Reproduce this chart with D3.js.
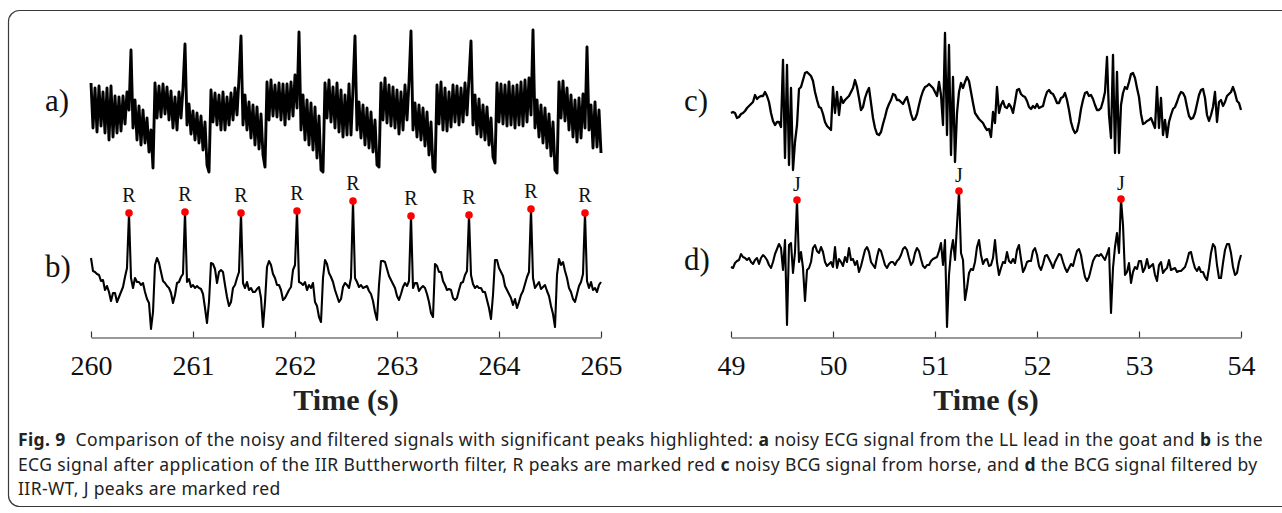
<!DOCTYPE html>
<html>
<head>
<meta charset="utf-8">
<script src="https://cdn.jsdelivr.net/npm/d3@7"></script>
<style>
html, body { margin: 0; padding: 0; background: #fff; }
svg { display: block; }
</style>
</head>
<body>
<svg id="chart" width="1282" height="513"></svg>
<script>
// ---------------- DATA ----------------
const fs = 51;                        // samples per second (as plotted)
const leftStart = 260, rightStart = 49; // time (s) of first sample
const leftTicks = [260, 261, 262, 263, 264, 265];
const rightTicks = [49, 50, 51, 52, 53, 54];
const panelLabels = ["a)", "b)", "c)", "d)"];
const axisTitle = "Time (s)";

// a) noisy ECG (goat, LL lead), arbitrary units
const ecgNoisy = [
  27,-18,22,-22,24,-16,18,-23,22,-30,
  24,-27,14,-23,13,-21,14,-14,18,0,
  60,-18,10,-30,4,-35,0,-33,-8,-42,
  -20,-58,27,-8,24,-7,26,-4,23,-10,
  19,-18,13,-20,18,-8,22,66,-15,6,
  -24,-1,-30,-3,-33,-6,-40,-12,-55,-62,
  20,-12,17,-15,15,-20,18,-20,13,-15,
  17,-10,22,-5,32,74,-15,15,-20,8,
  -28,5,-35,3,-39,-4,-45,-57,28,-10,
  30,-6,25,-7,27,-10,26,-15,26,-9,
  28,-6,35,2,78,-20,15,-30,10,-35,
  7,-40,3,-48,-6,-60,-62,27,-8,30,
  -12,23,-18,27,-22,20,-27,15,-25,26,
  -25,22,74,-20,8,-28,5,-35,2,-38,
  -2,-42,-10,-55,-57,27,-10,32,-13,25,
  -16,23,-18,20,-24,18,-20,25,-10,28,
  79,-20,7,-27,5,-30,2,-36,-2,-45,
  -12,-58,-62,25,-14,28,-20,22,-21,18,
  -17,25,-12,24,-15,22,-12,27,-5,32,
  69,-15,15,-24,11,-27,5,-30,3,-35,
  -8,-47,-53,27,-12,26,-14,25,-16,28,
  -15,24,-18,25,-15,28,-16,30,-12,32,
  -5,80,-18,10,-27,5,-33,2,-38,-4,
  -46,-12,-60,-63,28,-8,29,-11,22,-20,
  15,-27,10,-32,12,-28,16,-18,63,-20,
  5,-38,8,-37,0,-43
];

// b) ECG after IIR Butterworth filter
const ecgFiltered = [
  27,14,13,11,10,4,5,-5,-1,-7,
  -16,-8,-8,-17,-12,-7,-2,8,17,72,
  7,-3,7,3,3,0,2,-7,-14,-18,
  -44,-27,20,27,22,13,4,2,-1,-3,
  -8,-18,-10,2,3,8,11,73,3,6,
  -2,0,-3,-1,-3,-4,-9,-23,-38,-17,
  22,21,16,2,13,15,13,0,-12,-21,
  -17,-3,0,7,13,72,2,-3,3,-5,
  -3,-7,-7,-4,-2,-13,-42,-17,18,24,
  20,11,7,0,0,-5,-15,-13,-9,-5,
  -2,15,20,74,3,2,0,3,-5,0,
  -3,2,-17,-21,-32,-37,7,25,21,12,
  8,3,-5,-11,-17,-14,-2,2,0,-3,
  7,84,7,3,-2,0,-3,-2,-1,-6,
  -9,-16,-27,-35,0,24,24,23,16,9,
  5,1,-3,-11,-15,-9,-2,2,-1,4,
  69,-3,2,2,-6,-3,-1,-3,-9,-17,
  -28,-32,21,19,13,13,4,0,-5,-4,
  -5,-13,-15,-13,-5,2,3,10,14,70,
  10,1,-3,-1,-3,-3,-7,-7,-15,-23,
  -34,-10,25,25,17,13,9,-1,-5,-9,
  -13,-20,-14,-23,-17,-10,-6,1,8,13,
  76,7,-3,0,3,-4,-2,0,-6,-11,
  -21,-29,-42,10,26,20,23,14,7,-3,
  -7,-14,-17,-9,-1,3,11,72,4,-3,
  3,-5,-3,-7,0,3
];

// c) noisy BCG (horse)
const bcgNoisy = [
  -1,0,-1,-6,-5,-2,-1,1,4,6,
  8,10,17,13,15,16,16,20,16,10,
  -1,-9,-13,-10,-10,-15,52,-46,47,-53,
  24,-58,-30,-13,23,25,32,39,40,38,
  36,31,20,12,5,4,-2,-10,-14,-16,
  -18,25,-1,20,-3,15,9,12,14,16,
  20,24,32,25,14,2,5,14,20,24,
  9,-6,-16,-22,-23,-20,-12,-5,3,8,
  12,18,17,12,12,10,8,12,15,7,
  -2,-8,-7,-2,7,15,21,25,26,28,
  26,24,20,16,30,17,-13,79,-23,67,
  -43,35,-50,-1,20,29,24,30,35,31,
  20,9,-1,-4,-7,-9,-11,-15,-18,-17,
  -25,0,-11,25,-1,7,11,5,4,8,
  5,-1,10,22,23,18,16,15,11,5,
  3,6,4,8,4,5,6,14,20,22,
  19,18,14,9,9,14,15,19,12,2,
  -10,-17,-21,-19,-10,3,12,19,20,16,
  17,13,7,2,2,4,11,20,55,-3,
  -26,57,-41,40,-41,7,19,25,23,30,
  38,39,34,24,15,-2,-12,-11,-9,-8,
  -6,-11,-16,25,-16,14,-23,-8,-25,-10,
  -3,3,5,10,16,20,19,15,5,-4,
  -7,-6,-1,8,17,22,23,14,-3,-9,
  -3,5,20,-10,10,12,6,10,16,18,
  20,25,19,11,9,2
];

// d) BCG filtered by IIR-WT
const bcgFiltered = [
  -2,-3,2,4,5,11,8,7,5,7,
  3,1,5,7,1,7,10,8,5,0,
  -3,3,11,16,21,17,-5,25,-60,20,
  22,-8,13,65,3,13,-3,-36,-5,-3,
  3,17,20,14,12,18,13,3,-1,1,
  3,-2,18,-3,6,3,-1,8,3,17,
  5,6,0,4,-7,-1,7,15,18,13,
  3,0,-3,8,16,14,7,0,-3,1,
  3,3,0,4,6,10,16,18,15,7,
  0,3,12,17,14,6,-1,-3,0,0,
  4,6,7,8,14,22,0,25,-62,-10,
  13,25,5,40,74,12,5,-35,-23,-8,
  -4,-5,3,18,25,10,1,5,6,-1,
  0,7,25,3,-10,-3,3,2,13,4,
  2,6,2,15,20,6,-7,-3,3,4,
  4,14,17,10,-1,-5,1,9,10,6,
  2,-3,3,7,11,10,3,-3,-7,-3,
  1,-1,7,14,16,10,-2,-12,-16,-12,
  -4,4,8,10,9,11,8,5,11,17,
  -48,-3,18,32,12,66,40,-10,-7,2,
  -18,-7,-2,-4,4,4,-7,-3,6,-3,
  -1,1,-10,-16,0,3,-8,-5,-3,5,
  -5,-4,-3,-7,-6,-6,-4,-2,4,12,
  13,4,-3,-6,-2,-7,-7,-12,-15,-3,
  12,21,18,0,-13,-13,2,15,21,21,
  12,-2,-10,-8,3,10
];

// detected peaks (sample indices)
const rPeakIdx = [19, 47, 75, 103, 131, 160, 189, 220, 247];
const jPeakIdx = [33, 114, 195];
const rPeakLabel = "R", jPeakLabel = "J";

// caption
const captionLines = [
  [["Fig. 9", true], ["  Comparison of the noisy and filtered signals with significant peaks highlighted: ", false], ["a", true], [" noisy ECG signal from the LL lead in the goat and ", false], ["b", true], [" is the", false]],
  [["ECG signal after application of the IIR Buttherworth filter, R peaks are marked red ", false], ["c", true], [" noisy BCG signal from horse, and ", false], ["d", true], [" the BCG signal filtered by", false]],
  [["IIR-WT, J peaks are marked red", false]]
];

// ---------------- DRAW ----------------
const svg = d3.select("#chart");
const serif = "'Liberation Serif', 'Times New Roman', serif";

// outer frame
svg.append("rect")
  .attr("x", 8.5).attr("y", 10.5).attr("width", 1320).attr("height", 496)
  .attr("rx", 11).attr("fill", "none").attr("stroke", "#3a3a3a").attr("stroke-width", 1.2);

const xL = d3.scaleLinear().domain([260, 265]).range([91, 601]);
const xR = d3.scaleLinear().domain([49, 54]).range([731, 1241]);

const panels = [
  { data: ecgNoisy,    x: xL, t0: leftStart,  y: d3.scaleLinear().domain([-100, 100]).range([210, 10]),  sw: 2.9, label: panelLabels[0], lx: 45,  ly: 111 },
  { data: ecgFiltered, x: xL, t0: leftStart,  y: d3.scaleLinear().domain([-100, 100]).range([385, 185]), sw: 2.1, label: panelLabels[1], lx: 45,  ly: 277 },
  { data: bcgNoisy,    x: xR, t0: rightStart, y: d3.scaleLinear().domain([-100, 100]).range([212, 12]),  sw: 2.3, label: panelLabels[2], lx: 684, ly: 111 },
  { data: bcgFiltered, x: xR, t0: rightStart, y: d3.scaleLinear().domain([-100, 100]).range([365, 165]), sw: 2.1, label: panelLabels[3], lx: 684, ly: 270 }
];

panels.forEach(p => {
  const line = d3.line()
    .x((d, i) => p.x(p.t0 + i / fs))
    .y(d => p.y(d));
  svg.append("path")
    .datum(p.data)
    .attr("d", line)
    .attr("fill", "none")
    .attr("stroke", "#000")
    .attr("stroke-width", p.sw)
    .attr("stroke-linejoin", "round");
  svg.append("text")
    .attr("x", p.lx).attr("y", p.ly)
    .attr("font-family", serif).attr("font-size", 31).attr("fill", "#111")
    .text(p.label);
});

// peak markers
function drawPeaks(p, idx, lab, off) {
  const g = svg.append("g");
  g.selectAll("circle").data(idx).join("circle")
    .attr("cx", i => p.x(p.t0 + i / fs))
    .attr("cy", i => p.y(p.data[i]))
    .attr("r", 3.8)
    .attr("fill", "#ff0000");
  g.selectAll("text").data(idx).join("text")
    .attr("x", i => p.x(p.t0 + i / fs))
    .attr("y", i => p.y(p.data[i]) - off)
    .attr("text-anchor", "middle")
    .attr("font-family", serif).attr("font-size", 20).attr("fill", "#111")
    .text(lab);
}
drawPeaks(panels[1], rPeakIdx, rPeakLabel, 11);
drawPeaks(panels[3], jPeakIdx, jPeakLabel, 9);

// axes
function drawAxis(x, ticks) {
  const g = svg.append("g")
    .attr("transform", "translate(0,337.5)")
    .call(d3.axisBottom(x).tickValues(ticks).tickFormat(d3.format("d"))
      .tickSizeInner(-6).tickSizeOuter(0).tickPadding(18));
  g.attr("font-family", serif).attr("font-size", 28);
  g.select(".domain").attr("stroke", "#333").attr("stroke-width", 1.2);
  g.selectAll(".tick line").attr("stroke", "#333").attr("stroke-width", 1.2);
  g.selectAll(".tick text").attr("fill", "#111");
  const r = x.range();
  svg.append("text")
    .attr("x", (r[0] + r[1]) / 2).attr("y", 410)
    .attr("text-anchor", "middle")
    .attr("font-family", serif).attr("font-size", 30).attr("font-weight", "bold").attr("fill", "#222")
    .text(axisTitle);
}
drawAxis(xL, leftTicks);
drawAxis(xR, rightTicks);

// caption: fitted by a common letter-spacing taken from the first (full) line
const capBase = [446, 471, 495];
const capNodes = captionLines.map((segs, li) => {
  const t = svg.append("text")
    .attr("x", 18).attr("y", capBase[li])
    .attr("font-family", "'Noto Sans', 'Open Sans', sans-serif")
    .attr("font-size", 17.5).attr("fill", "#222")
    .style("white-space", "pre");
  segs.forEach(([s, b]) => {
    t.append("tspan").attr("font-weight", b ? "bold" : "normal").text(s);
  });
  return t;
});
const n0 = captionLines[0].reduce((a, s) => a + s[0].length, 0);
const w0 = capNodes[0].node().getComputedTextLength();
const ls = (1263 - 18 - w0) / n0;
capNodes.forEach(t => t.attr("letter-spacing", ls));
</script>
</body>
</html>
